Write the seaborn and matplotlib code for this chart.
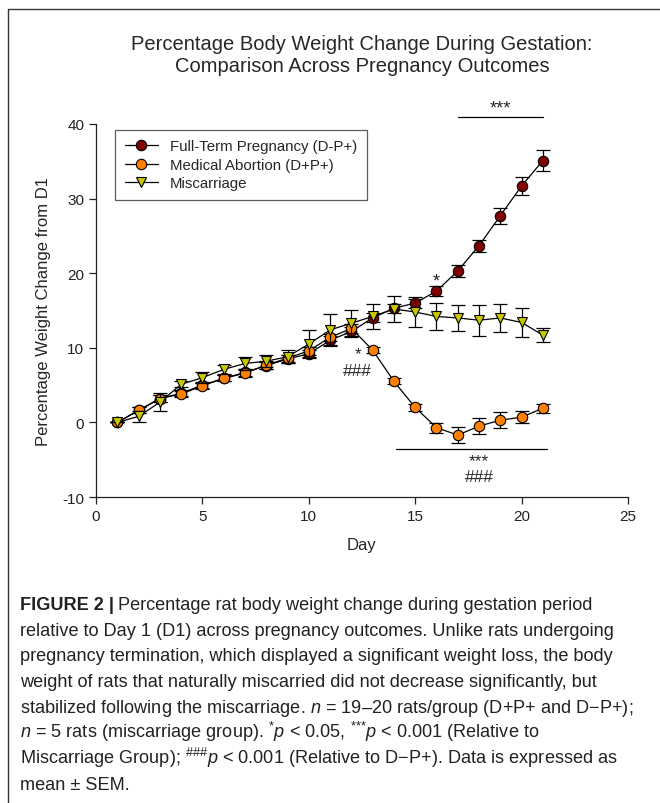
import matplotlib
matplotlib.use("Agg")
import matplotlib.pyplot as plt
from matplotlib import font_manager
from matplotlib.lines import Line2D
import seaborn as sns
import pandas as pd


def pick_font(names):
    for n in names:
        try:
            font_manager.findfont(n, fallback_to_default=False)
            return n
        except Exception:
            pass
    return "DejaVu Sans"


# --- data ---
days = list(range(1, 22))

full_term = [0, 1.6, 3.2, 3.9, 5.0, 5.9, 6.7, 7.6, 8.5, 9.2, 11.0, 12.2,
             14.0, 15.3, 16.0, 17.6, 20.3, 23.7, 27.7, 31.7, 35.1]
full_term_sem = [0, 0.4, 0.5, 0.4, 0.4, 0.4, 0.5, 0.5, 0.5, 0.5, 0.6, 0.6,
                 0.6, 0.6, 0.6, 0.7, 0.75, 0.8, 1.1, 1.2, 1.45]

abortion = [0, 1.6, 3.2, 3.8, 4.9, 5.9, 6.6, 7.7, 8.6, 9.6, 11.4, 12.6,
            9.7, 5.5, 2.0, -0.7, -1.7, -0.5, 0.3, 0.7, 1.9]
abortion_sem = [0, 0.4, 0.5, 0.4, 0.4, 0.4, 0.5, 0.5, 0.5, 0.5, 0.5, 0.6,
                0.4, 0.4, 0.5, 0.67, 1.05, 1.05, 1.05, 0.8, 0.6]

miscarriage = [0, 0.8, 2.7, 5.1, 6.0, 7.1, 7.9, 8.2, 8.8, 10.5, 12.4, 13.3,
               14.2, 15.2, 14.8, 14.2, 14.0, 13.7, 14.0, 13.4, 11.7]
miscarriage_sem = [0, 0.7, 1.2, 0.4, 0.7, 0.6, 0.9, 0.8, 0.9, 1.9, 2.1, 1.8,
                   1.7, 1.8, 2.0, 1.8, 1.7, 2.1, 1.9, 1.9, 0.9]

group_names = ["Full-Term Pregnancy (D-P+)", "Medical Abortion (D+P+)", "Miscarriage"]
group_colors = ["#800000", "#FF8000", "#C8C800"]
group_markers = ["o", "o", "v"]

caption_lines = [
    "relative to Day 1 (D1) across pregnancy outcomes. Unlike rats undergoing",
    "pregnancy termination, which displayed a significant weight loss, the body",
    "weight of rats that naturally miscarried did not decrease significantly, but",
    "stabilized following the miscarriage. $n$ = 19\u201320 rats/group (D+P+ and D\u2212P+);",
    "$n$ = 5 rats (miscarriage group). $^{\\text{*}}p$ < 0.05, $^{\\text{***}}p$ < 0.001 (Relative to",
    "Miscarriage Group); $^{\\text{###}}p$ < 0.001 (Relative to D\u2212P+). Data is expressed as",
    "mean \u00b1 SEM.",
]

df = pd.concat([
    pd.DataFrame({"Day": days, "Change": full_term, "SEM": full_term_sem, "Group": group_names[0]}),
    pd.DataFrame({"Day": days, "Change": abortion, "SEM": abortion_sem, "Group": group_names[1]}),
    pd.DataFrame({"Day": days, "Change": miscarriage, "SEM": miscarriage_sem, "Group": group_names[2]}),
])

sns.set_style("ticks")
plot_font = pick_font(["Liberation Sans", "Arial", "DejaVu Sans"])
cap_font = pick_font(["Liberation Sans Narrow", "Liberation Sans", "DejaVu Sans"])
plt.rcParams["font.family"] = [plot_font, "DejaVu Sans"]
plt.rcParams["axes.unicode_minus"] = False
plt.rcParams["mathtext.fontset"] = "custom"
plt.rcParams["mathtext.rm"] = cap_font
plt.rcParams["mathtext.it"] = cap_font + ":italic"
plt.rcParams["mathtext.bf"] = cap_font + ":bold"

fig = plt.figure(figsize=(6.6, 8.04), dpi=100)
W, H = 660, 804
ax = fig.add_axes([96 / W, 1 - 498 / H, (628 - 96) / W, (498 - 125) / H])

for i, name in enumerate(group_names):
    sub = df[df["Group"] == name]
    ax.errorbar(sub["Day"], sub["Change"], yerr=sub["SEM"], fmt="none",
                ecolor="black", elinewidth=0.9, capsize=5, capthick=0.9,
                zorder=2 + i)
    sns.lineplot(data=sub, x="Day", y="Change", ax=ax, color="black",
                 linewidth=0.9, marker=group_markers[i], markersize=7.5,
                 markerfacecolor=group_colors[i], markeredgecolor="black",
                 markeredgewidth=0.8, label=name, zorder=2.5 + i,
                 errorbar=None)

ax.set_xlim(0, 25)
ax.set_ylim(-10, 40)
ax.set_xticks([0, 5, 10, 15, 20, 25])
ax.set_yticks([-10, 0, 10, 20, 30, 40])
sns.despine(ax=ax)
for s in ["left", "bottom"]:
    ax.spines[s].set_linewidth(0.9)
    ax.spines[s].set_color("#222222")
ax.tick_params(direction="out", length=5, width=0.9, labelsize=11, colors="#222222")
ax.set_xlabel("Day", fontsize=12, labelpad=10)
ax.set_ylabel("Percentage Weight Change from D1", fontsize=12, labelpad=8)
ax.set_title("Percentage Body Weight Change During Gestation:\nComparison Across Pregnancy Outcomes",
             fontsize=14.5, pad=38, linespacing=1.2)

handles = [Line2D([0], [0], color="black", lw=0.9, marker=group_markers[i],
                  markersize=7.5, markerfacecolor=group_colors[i],
                  markeredgecolor="black", markeredgewidth=0.8)
           for i in range(3)]
leg = ax.legend(handles, group_names, loc="upper left", bbox_to_anchor=(0.022, 1.005),
                fontsize=10.8, frameon=True, fancybox=False, edgecolor="#333333",
                borderpad=0.65, handlelength=2.2, labelspacing=0.3)
leg.get_frame().set_linewidth(0.9)

# significance annotations
ax.plot([17, 21], [41, 41], color="black", lw=0.9, clip_on=False)
ax.text(19, 42.2, "***", ha="center", va="center", fontsize=13)
ax.text(16, 19.0, "*", ha="center", va="center", fontsize=13)
ax.text(12.3, 8.2, "*", ha="center", va="bottom", fontsize=12.5)
ax.text(12.3, 8.0, "###", ha="center", va="top", fontsize=12.5)
ax.plot([14.1, 21.2], [-3.6, -3.6], color="black", lw=0.9, clip_on=False)
ax.text(18, -6.1, "***", ha="center", va="bottom", fontsize=12.5)
ax.text(18, -6.3, "###", ha="center", va="top", fontsize=12.5)

# outer frame (left and top edges)
fig.add_artist(Line2D([8 / W, 8 / W], [0, 1 - 10 / H], color="#333333", lw=1.0))
fig.add_artist(Line2D([8 / W, 1], [1 - 10 / H, 1 - 10 / H], color="#333333", lw=1.0))

# caption
cap_size = 13.1
x0 = 20 / W
y_first = 1 - 610 / H
t = fig.text(x0, y_first, "FIGURE 2 |", fontsize=cap_size, family=cap_font,
             fontweight="bold", va="baseline", color="#222222")
fig.canvas.draw()
bb = t.get_window_extent(renderer=fig.canvas.get_renderer())
fig.text(bb.x1 / W + 4 / W, y_first, "Percentage rat body weight change during gestation period",
         fontsize=cap_size, family=cap_font, va="baseline", color="#222222")
for k, line in enumerate(caption_lines):
    fig.text(x0, 1 - (610 + 25.7 * (k + 1)) / H, line, fontsize=cap_size,
             family=cap_font, va="baseline", color="#222222")

fig.savefig("out.png", dpi=100)
